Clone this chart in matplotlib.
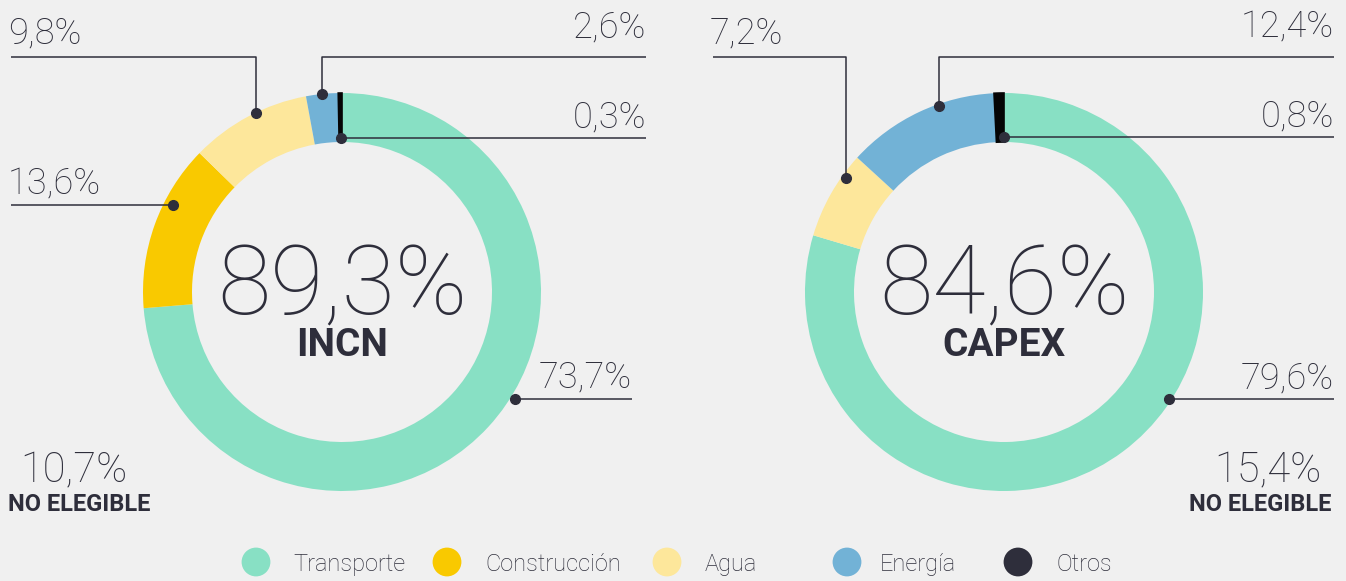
import numpy as np
import matplotlib
matplotlib.use('Agg')
import matplotlib.pyplot as plt

# datos
categories = ['Transporte', 'Construcción', 'Agua', 'Energía', 'Otros']
incn_values = [73.7, 13.6, 9.8, 2.6, 0.3]
capex_values = [79.6, 0.0, 7.2, 12.4, 0.8]
totals = ['89,3%', '84,6%']
titles = ['INCN', 'CAPEX']
no_elegible = ['10,7%', '15,4%']

colors = ['#88e0c4', '#f9c900', '#fde79b', '#72b2d6', '#050505']
legend_colors = ['#88e0c4', '#f9c900', '#fde79b', '#72b2d6', '#2e2e3b']
TXT = '#2e2e3b'
BG = '#f0f0f0'

W, H = 1346, 581
fig = plt.figure(figsize=(W / 100, H / 100), dpi=100, facecolor=BG)
ax = fig.add_axes([0, 0, 1, 1])
ax.set_facecolor(BG)

LIGHT = dict(family='Roboto', weight='light', color=TXT)
BOLD = dict(family='Roboto', weight='bold', color=TXT)


def py(y):  # pixel (desde arriba) -> datos
    return H - y


def fmt(v):
    return f'{v:.1f}'.replace('.', ',') + '%'


R, RW = 199, 49
centers = [(342, 292), (1004, 292)]

# etiquetas: (categoria, angulo del punto, radio del punto, y de la linea, x final, lado del texto)
leaders = [
    [(2, -25.7, 199, 57, 11, 'left'), (1, -62.8, 190, None, 11, 'left'),
     (3, -5.7, 199, 57, 646, 'right'), (4, -0.4, 154, None, 646, 'right'),
     (0, 121.7, 203, None, 632, 'right')],
    [(2, -54.2, 195, 57, 713, 'left'), (3, -19.3, 197, 57, 1334, 'right'),
     (4, 0.0, 155, None, 1334, 'right'), (0, 123.0, 197, None, 1334, 'right')],
]

for k, vals in enumerate([incn_values, capex_values]):
    cx, cy = centers[k]
    wedges, _ = ax.pie(vals, colors=colors, startangle=90, counterclock=False,
                       radius=R, center=(cx, py(cy)),
                       wedgeprops=dict(width=RW, linewidth=0))
    # la porcion "Otros" lleva un borde negro para que se vea
    wedges[-1].set_edgecolor(colors[-1])
    wedges[-1].set_linewidth(1.2)

    ax.text(cx, py(314), totals[k], ha='center', va='baseline', fontsize=70, **LIGHT)
    ax.text(cx, py(356), titles[k], ha='center', va='baseline', fontsize=28, **BOLD)

    for cat, ang, r, ly, xend, side in leaders[k]:
        a = np.deg2rad(ang)
        dx, dy = cx + r * np.sin(a), cy - r * np.cos(a)
        if ly is None:
            xs, ys = [dx, xend], [dy, dy]
            ty = dy - 11
        else:
            xs, ys = [dx, dx, xend], [dy, ly, ly]
            ty = ly - 14 if side == 'left' else ly - 20
        ax.plot(xs, [py(v) for v in ys], color=TXT, lw=1.1, solid_capstyle='butt')
        ax.plot(dx, py(dy), 'o', color=TXT, ms=7)
        tx = xend - 3 if side == 'left' else xend
        ax.text(tx, py(ty), fmt(vals[cat]), ha=side, va='baseline', fontsize=26, **LIGHT)

# no elegible
ax.text(20, py(482), no_elegible[0], ha='left', va='baseline', fontsize=30, **LIGHT)
ax.text(8, py(511), 'NO ELEGIBLE', ha='left', va='baseline', fontsize=17, **BOLD)
ax.text(1322, py(482), no_elegible[1], ha='right', va='baseline', fontsize=30, **LIGHT)
ax.text(1331, py(511), 'NO ELEGIBLE', ha='right', va='baseline', fontsize=17, **BOLD)

# leyenda
leg_dot_x = [256, 447, 667, 847, 1018]
leg_txt_x = [293, 485, 705, 880, 1057]
ax.scatter(leg_dot_x, [py(562)] * 5, s=430, c=legend_colors, linewidths=0)
for x, name in zip(leg_txt_x, categories):
    ax.text(x, py(571), name, ha='left', va='baseline', fontsize=17, **LIGHT)

ax.set_xlim(0, W)
ax.set_ylim(0, H)
ax.set_aspect('equal')
ax.axis('off')

fig.savefig('out.png', dpi=100, facecolor=BG)
